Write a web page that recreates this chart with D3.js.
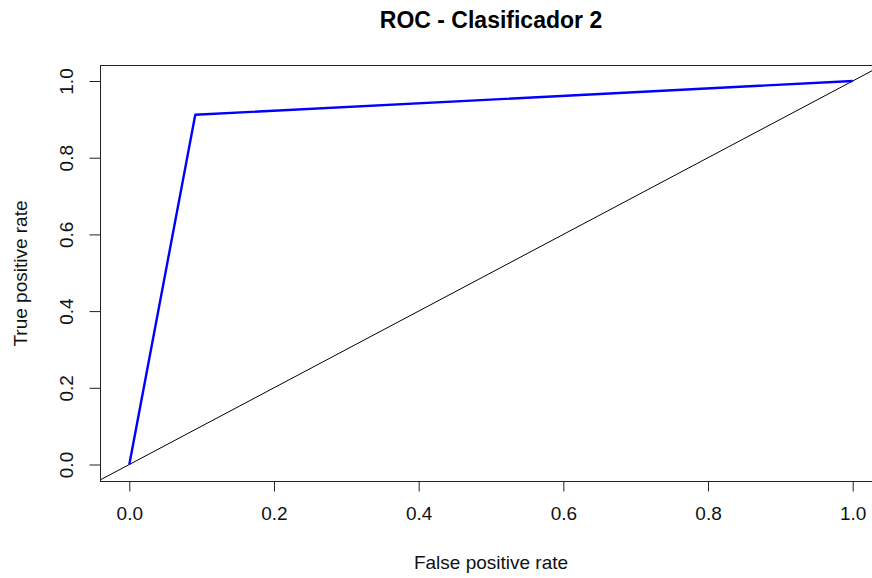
<!DOCTYPE html>
<html><head><meta charset="utf-8">
<script src="https://cdn.jsdelivr.net/npm/d3@7"></script>
<style>body{margin:0;background:#fff}svg{display:block}text{font-family:"Liberation Sans",Arial,sans-serif}</style>
</head><body>
<svg id="c" width="872" height="578"></svg>
<script>
const fpr = [0, 0.0912, 1];
const tpr = [0, 0.912, 1];
const xTicks = [0, 0.2, 0.4, 0.6, 0.8, 1.0];
const yTicks = [0, 0.2, 0.4, 0.6, 0.8, 1.0];
const titleText = "ROC - Clasificador 2";
const xLabel = "False positive rate";
const yLabel = "True positive rate";

const svg = d3.select("#c");
const box = {l: 100.5, r: 882, t: 65.5, b: 481.5};
const x = d3.scaleLinear().domain([0, 1]).range([129.3, 852.7]);
const y = d3.scaleLinear().domain([0, 1]).range([464.5, 81]);

svg.append("clipPath").attr("id", "clip").append("rect")
  .attr("x", box.l).attr("y", box.t).attr("width", box.r - box.l).attr("height", box.b - box.t);

// diagonal reference
const dom = [x.invert(box.l) - 0.01, x.invert(box.r) + 0.01];
svg.append("line").attr("clip-path", "url(#clip)")
  .attr("x1", x(dom[0])).attr("y1", y(dom[0])).attr("x2", x(dom[1])).attr("y2", y(dom[1]))
  .attr("stroke", "#000").attr("stroke-width", 1);

// ROC curve
const line = d3.line().x((d, i) => x(fpr[i])).y((d, i) => y(tpr[i]));
svg.append("path").datum(fpr).attr("d", line).attr("fill", "none")
  .attr("stroke", "#0000ff").attr("stroke-width", 2.4).attr("stroke-linejoin", "round");

// box
svg.append("rect").attr("x", box.l).attr("y", box.t).attr("width", box.r - box.l).attr("height", box.b - box.t)
  .attr("fill", "none").attr("stroke", "#222").attr("stroke-width", 1);

// x axis
const xa = svg.append("g").attr("transform", `translate(0,${box.b})`)
  .call(d3.axisBottom(x).tickValues(xTicks).tickFormat(d3.format(".1f")).tickSize(10).tickPadding(15));
xa.select(".domain").remove();
xa.selectAll("line").attr("stroke", "#222");
xa.selectAll("text").attr("font-size", 19).attr("fill", "#111");

// y axis
const ya = svg.append("g").attr("transform", `translate(${box.l},0)`)
  .call(d3.axisLeft(y).tickValues(yTicks).tickFormat(d3.format(".1f")).tickSize(11));
ya.select(".domain").remove();
ya.selectAll("line").attr("stroke", "#222");
ya.selectAll("text").attr("font-size", 19).attr("fill", "#111")
  .attr("x", null).attr("dy", null)
  .attr("text-anchor", "middle")
  .attr("transform", "translate(-28,0) rotate(-90)");

// title & labels
svg.append("text").attr("x", 491).attr("y", 28).attr("text-anchor", "middle")
  .attr("font-size", 23).attr("font-weight", "bold").attr("fill", "#000").text(titleText);
svg.append("text").attr("x", 491).attr("y", 569).attr("text-anchor", "middle")
  .attr("font-size", 19).attr("fill", "#111").text(xLabel);
svg.append("text").attr("transform", `translate(27,${(box.t + box.b) / 2}) rotate(-90)`).attr("text-anchor", "middle")
  .attr("font-size", 19).attr("fill", "#111").text(yLabel);
</script>
</body></html>
